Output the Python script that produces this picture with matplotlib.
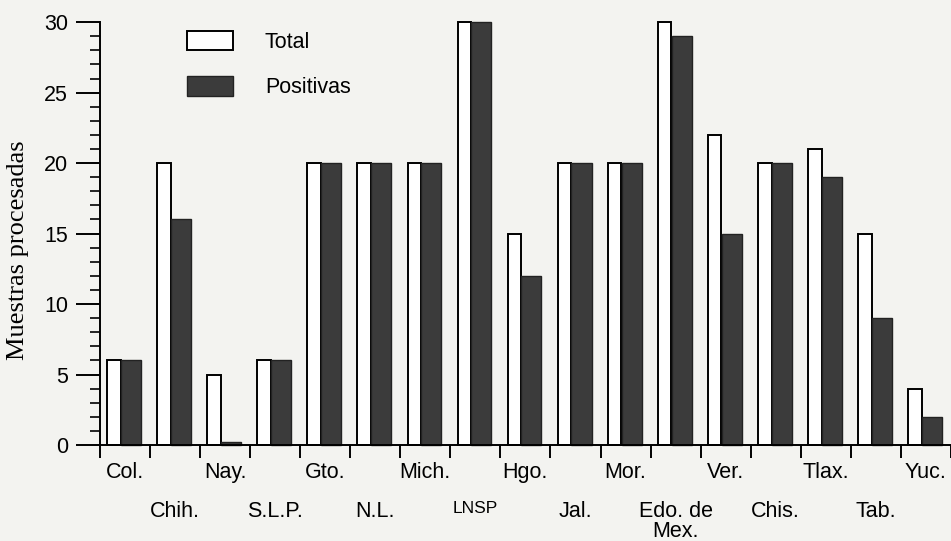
import numpy as np
import matplotlib
matplotlib.use("Agg")
import matplotlib.pyplot as plt
from matplotlib.ticker import MultipleLocator

estados = ["Col.", "Chih.", "Nay.", "S.L.P.", "Gto.", "N.L.", "Mich.", "LNSP", "Hgo.",
           "Jal.", "Mor.", "Edo. de\nMex.", "Ver.", "Chis.", "Tlax.", "Tab.", "Yuc."]
total = [6, 20, 5, 6, 20, 20, 20, 30, 15, 20, 20, 30, 22, 20, 21, 15, 4]
positivas = [6, 16, 0.2, 6, 20, 20, 20, 30, 12, 20, 20, 29, 15, 20, 19, 9, 2]

bg = "#f3f3f0"
dark = "#3b3b3b"

plt.rcParams["font.family"] = ["Liberation Sans", "DejaVu Sans"]

fig = plt.figure(figsize=(9.51, 5.41), dpi=100, facecolor=bg)
ax = fig.add_axes([0.105, 0.1775, 0.895, 0.7815])
ax.set_facecolor(bg)

x = np.arange(len(estados))
b1 = ax.bar(x - 0.22, total, width=0.27, color="white", edgecolor="black",
            linewidth=1.4, label="Total", clip_on=False)
b2 = ax.bar(x + 0.12, positivas, width=0.40, color=dark, edgecolor="#222222",
            linewidth=1.0, label="Positivas", clip_on=False)

ax.set_xlim(-0.5, 16.5)
ax.set_ylim(0, 30)

ax.spines["top"].set_visible(False)
ax.spines["right"].set_visible(False)
ax.spines["left"].set_linewidth(1.4)
ax.spines["bottom"].set_linewidth(1.4)

ax.yaxis.set_major_locator(MultipleLocator(5))
ax.yaxis.set_minor_locator(MultipleLocator(1))
ax.tick_params(axis="y", which="major", length=17, width=1.4, pad=6, labelsize=15.5)
ax.tick_params(axis="y", which="minor", length=7, width=1.2)

# nombres al centro de cada grupo, marcas en los limites
ax.set_xticks(x)
ax.set_xticklabels(estados, fontsize=15.5, linespacing=0.95)
ax.set_xticks(np.arange(-0.5, 17, 1), minor=True)
ax.tick_params(axis="x", which="major", length=0)
ax.tick_params(axis="x", which="minor", length=9, width=1.4)
for i, t in enumerate(ax.xaxis.get_major_ticks()):
    t.set_pad(12 if i % 2 == 0 else 40)
for i, lab in enumerate(ax.get_xticklabels()):
    if estados[i] == "LNSP":
        lab.set_fontsize(12.5)

ax.set_ylabel("Muestras procesadas", family="Liberation Serif", fontsize=19)
ax.yaxis.set_label_coords(-0.083, 0.46)

ax.legend(handles=[b1, b2], loc="upper left", bbox_to_anchor=(0.102, 0.98),
          frameon=False, fontsize=15.5, handlelength=2.14, handleheight=1.0,
          labelspacing=1.1, handletextpad=1.49, borderpad=0, borderaxespad=0)

fig.savefig("out.png", dpi=100, facecolor=bg)
